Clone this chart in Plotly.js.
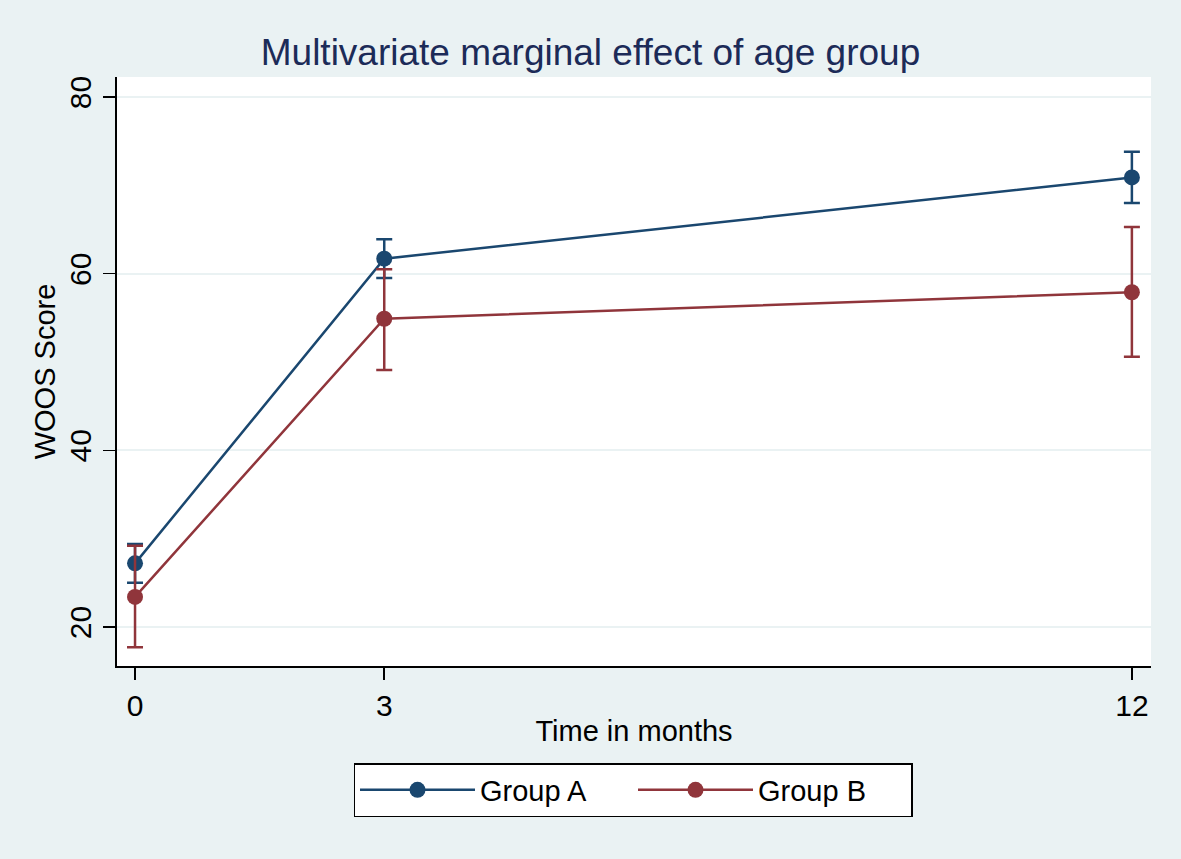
<!DOCTYPE html>
<html>
<head>
<meta charset="utf-8">
<script src="https://cdn.plot.ly/plotly-3.0.1.min.js"></script>
<style>html,body{margin:0;padding:0;background:#eaf2f3;}#chart{width:1181px;height:859px;}</style>
</head>
<body>
<div id="chart"></div>
<script>
const months = [0, 3, 12];
const tickLabels = ["0", "3", "12"];
const groupA = [27.2, 61.7, 70.9];
const groupAUpper = [29.4, 63.9, 73.8];
const groupALower = [25.0, 59.5, 68.0];
const groupB = [23.4, 54.9, 57.9];
const groupBUpper = [29.2, 60.5, 65.3];
const groupBLower = [17.7, 49.1, 50.6];
const yTicks = [20, 40, 60, 80];

const navy = "#1a476f";
const maroon = "#90353b";
const titleColor = "#1c2b58";
const font = "Liberation Sans, Arial, Helvetica, sans-serif";

function trace(name, y, up, lo, color) {
  return {
    x: months, y: y, name: name, type: "scatter", mode: "lines+markers",
    line: {color: color, width: 2.5},
    marker: {color: color, size: 16},
    error_y: {
      type: "data", symmetric: false,
      array: up.map((v, i) => v - y[i]),
      arrayminus: lo.map((v, i) => y[i] - v),
      color: color, thickness: 2.5, width: 8
    }
  };
}

const data = [
  trace("Group A", groupA, groupAUpper, groupALower, navy),
  trace("Group B", groupB, groupBUpper, groupBLower, maroon)
];

const layout = {
  width: 1181, height: 859,
  paper_bgcolor: "#eaf2f3", plot_bgcolor: "#ffffff",
  font: {family: font, color: "#000", size: 29},
  margin: {l: 117, r: 30, t: 77, b: 193},
  title: {text: "Multivariate marginal effect of age group", font: {size: 37, color: titleColor, family: font},
          x: 0.5, xanchor: "center", y: 1 - 52/859, yanchor: "middle", xref: "container", yref: "container"},
  xaxis: {
    range: [-0.217, 12.23], tickvals: months, ticktext: tickLabels,
    showgrid: false, zeroline: false, showline: true, linecolor: "#000", linewidth: 2,
    ticks: "outside", ticklen: 12, tickwidth: 1.5, tickcolor: "#000",
    tickfont: {size: 30}, fixedrange: true,
    title: {text: "Time in months", font: {size: 29}, standoff: 0}
  },
  yaxis: {
    range: [15.58, 82.27], tickvals: yTicks, ticktext: yTicks.map(String),
    tickangle: -90, showgrid: true, gridcolor: "#eaf2f3", gridwidth: 2,
    zeroline: false, showline: true, linecolor: "#000", linewidth: 2,
    ticks: "outside", ticklen: 12, tickwidth: 1.5, tickcolor: "#000",
    tickfont: {size: 30}, fixedrange: true,
    title: {text: "WOOS Score", font: {size: 29}, standoff: 0}
  },
  showlegend: true,
  legend: {
    orientation: "h", xref: "container", yref: "container",
    x: 633/1181, xanchor: "center", y: 1 - 763/859, yanchor: "top",
    bgcolor: "#ffffff", bordercolor: "#000", borderwidth: 1.5,
    font: {size: 29}, itemwidth: 115, entrywidth: 148, traceorder: "normal"
  }
};

Plotly.newPlot("chart", data, layout, {displayModeBar: false, staticPlot: true});
</script>
</body>
</html>
